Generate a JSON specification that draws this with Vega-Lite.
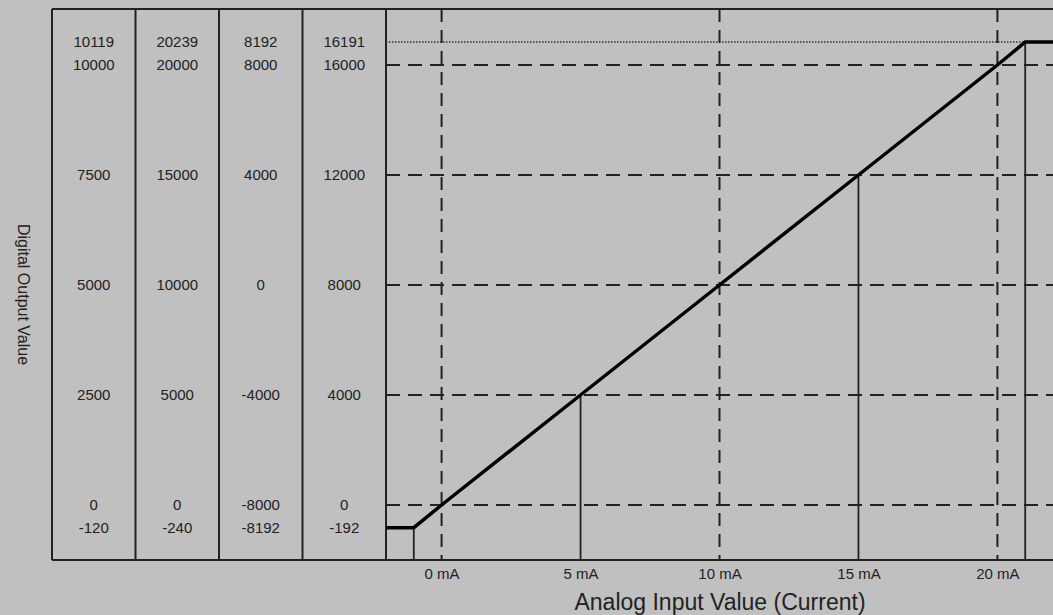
{
  "$schema": "https://vega.github.io/schema/vega-lite/v6.json",
  "width": 1001,
  "height": 551,
  "autosize": {"type": "none"},
  "padding": {"left": 52, "top": 9, "right": 0, "bottom": 55},
  "background": "#c0c0c0",
  "config": {
    "view": {"stroke": null},
    "font": "Liberation Sans",
    "axisY": {
      "labels": false, "ticks": false, "domain": false, "grid": false,
      "titleAngle": 90, "titleX": -30, "titleY": 285,
      "titleAlign": "center", "titleBaseline": "middle",
      "titleFontSize": 16, "titleFontWeight": "normal", "titleColor": "#222222",
      "titleFont": "Liberation Sans"
    },
    "axisX": {
      "ticks": false, "domain": false, "grid": false,
      "labelFontSize": 15, "labelColor": "#222222", "labelPadding": 6,
      "labelFont": "Liberation Sans",
      "titleFontSize": 23, "titleFontWeight": "normal", "titleColor": "#222222",
      "titleFont": "Liberation Sans",
      "titleY": 49, "titleBaseline": "alphabetic"
    }
  },
  "datasets": {
    "table": [
      {"pos": 0.5, "level": 16191, "label": "10119"},
      {"pos": 0.5, "level": 16000, "label": "10000"},
      {"pos": 0.5, "level": 12000, "label": "7500"},
      {"pos": 0.5, "level": 8000, "label": "5000"},
      {"pos": 0.5, "level": 4000, "label": "2500"},
      {"pos": 0.5, "level": 0, "label": "0"},
      {"pos": 0.5, "level": -192, "label": "-120"},
      {"pos": 1.5, "level": 16191, "label": "20239"},
      {"pos": 1.5, "level": 16000, "label": "20000"},
      {"pos": 1.5, "level": 12000, "label": "15000"},
      {"pos": 1.5, "level": 8000, "label": "10000"},
      {"pos": 1.5, "level": 4000, "label": "5000"},
      {"pos": 1.5, "level": 0, "label": "0"},
      {"pos": 1.5, "level": -192, "label": "-240"},
      {"pos": 2.5, "level": 16191, "label": "8192"},
      {"pos": 2.5, "level": 16000, "label": "8000"},
      {"pos": 2.5, "level": 12000, "label": "4000"},
      {"pos": 2.5, "level": 8000, "label": "0"},
      {"pos": 2.5, "level": 4000, "label": "-4000"},
      {"pos": 2.5, "level": 0, "label": "-8000"},
      {"pos": 2.5, "level": -192, "label": "-8192"},
      {"pos": 3.5, "level": 16191, "label": "16191"},
      {"pos": 3.5, "level": 16000, "label": "16000"},
      {"pos": 3.5, "level": 12000, "label": "12000"},
      {"pos": 3.5, "level": 8000, "label": "8000"},
      {"pos": 3.5, "level": 4000, "label": "4000"},
      {"pos": 3.5, "level": 0, "label": "0"},
      {"pos": 3.5, "level": -192, "label": "-192"}
    ],
    "dividers": [{"pos": 0}, {"pos": 1}, {"pos": 2}, {"pos": 3}, {"pos": 4}],
    "frame": [{"level": -2000}, {"level": 18000}],
    "hgrid": [
      {"level": 0, "from": -2, "to": 22},
      {"level": 4000, "from": -2, "to": 22},
      {"level": 8000, "from": -2, "to": 22},
      {"level": 12000, "from": -2, "to": 22},
      {"level": 16000, "from": -2, "to": 22}
    ],
    "vgrid": [{"mA": 0}, {"mA": 10}, {"mA": 20}],
    "dotted": [{"level": 16191, "from": -2, "to": 21}],
    "drops": [
      {"mA": -1, "level": -192, "bottom": -2000},
      {"mA": 5, "level": 4000, "bottom": -2000},
      {"mA": 15, "level": 12000, "bottom": -2000},
      {"mA": 21, "level": 16191, "bottom": -2000}
    ],
    "curve": [
      {"mA": -2, "level": -192},
      {"mA": -1, "level": -192},
      {"mA": 0, "level": 0},
      {"mA": 5, "level": 4000},
      {"mA": 10, "level": 8000},
      {"mA": 15, "level": 12000},
      {"mA": 20, "level": 16000},
      {"mA": 21, "level": 16191},
      {"mA": 22, "level": 16191}
    ]
  },
  "resolve": {"scale": {"x": "independent"}},
  "layer": [
    {
      "layer": [
        {
          "data": {"name": "dividers"},
          "mark": {"type": "rule", "stroke": "#222222", "strokeWidth": 2},
          "encoding": {
            "x": {"field": "pos", "type": "quantitative", "axis": null,
                  "scale": {"domain": [0, 4], "range": [0, 334], "nice": false, "zero": false}}
          }
        },
        {
          "data": {"name": "table"},
          "mark": {"type": "text", "fontSize": 15, "align": "center", "baseline": "middle", "color": "#222222", "font": "Liberation Sans"},
          "encoding": {
            "x": {"field": "pos", "type": "quantitative", "axis": null,
                  "scale": {"domain": [0, 4], "range": [0, 334], "nice": false, "zero": false}},
            "y": {"field": "level", "type": "quantitative", "title": "Digital Output Value",
                  "scale": {"domain": [-2000, -192, 0, 16000, 16191, 18000], "range": [551, 518.7, 496, 56, 33, 0], "nice": false, "zero": false}},
            "text": {"field": "label"}
          }
        }
      ]
    },
    {
      "layer": [
        {
          "data": {"name": "hgrid"},
          "mark": {"type": "rule", "stroke": "#222222", "strokeWidth": 2, "strokeDash": [14, 8]},
          "encoding": {
            "x": {"field": "from", "type": "quantitative",
                  "scale": {"domain": [-2, 22], "range": [334, 1001], "nice": false, "zero": false},
                  "axis": {"values": [0, 5, 10, 15, 20], "labelExpr": "datum.value + ' mA'", "title": "Analog Input Value (Current)"}},
            "x2": {"field": "to"},
            "y": {"field": "level", "type": "quantitative", "title": "Digital Output Value",
                  "scale": {"domain": [-2000, -192, 0, 16000, 16191, 18000], "range": [551, 518.7, 496, 56, 33, 0], "nice": false, "zero": false}}
          }
        },
        {
          "data": {"name": "vgrid"},
          "mark": {"type": "rule", "stroke": "#222222", "strokeWidth": 2, "strokeDash": [13, 8]},
          "encoding": {
            "x": {"field": "mA", "type": "quantitative",
                  "scale": {"domain": [-2, 22], "range": [334, 1001], "nice": false, "zero": false},
                  "axis": {"values": [0, 5, 10, 15, 20], "labelExpr": "datum.value + ' mA'", "title": "Analog Input Value (Current)"}}
          }
        },
        {
          "data": {"name": "dotted"},
          "mark": {"type": "rule", "stroke": "#333333", "strokeWidth": 1.5, "strokeDash": [1.5, 1.5]},
          "encoding": {
            "x": {"field": "from", "type": "quantitative",
                  "scale": {"domain": [-2, 22], "range": [334, 1001], "nice": false, "zero": false},
                  "axis": {"values": [0, 5, 10, 15, 20], "labelExpr": "datum.value + ' mA'", "title": "Analog Input Value (Current)"}},
            "x2": {"field": "to"},
            "y": {"field": "level", "type": "quantitative", "title": "Digital Output Value",
                  "scale": {"domain": [-2000, -192, 0, 16000, 16191, 18000], "range": [551, 518.7, 496, 56, 33, 0], "nice": false, "zero": false}}
          }
        },
        {
          "data": {"name": "drops"},
          "mark": {"type": "rule", "stroke": "#222222", "strokeWidth": 1.8},
          "encoding": {
            "x": {"field": "mA", "type": "quantitative",
                  "scale": {"domain": [-2, 22], "range": [334, 1001], "nice": false, "zero": false},
                  "axis": {"values": [0, 5, 10, 15, 20], "labelExpr": "datum.value + ' mA'", "title": "Analog Input Value (Current)"}},
            "y": {"field": "level", "type": "quantitative", "title": "Digital Output Value",
                  "scale": {"domain": [-2000, -192, 0, 16000, 16191, 18000], "range": [551, 518.7, 496, 56, 33, 0], "nice": false, "zero": false}},
            "y2": {"field": "bottom"}
          }
        },
        {
          "data": {"name": "frame"},
          "mark": {"type": "rule", "stroke": "#222222", "strokeWidth": 2},
          "encoding": {
            "y": {"field": "level", "type": "quantitative", "title": "Digital Output Value",
                  "scale": {"domain": [-2000, -192, 0, 16000, 16191, 18000], "range": [551, 518.7, 496, 56, 33, 0], "nice": false, "zero": false}}
          }
        },
        {
          "data": {"name": "curve"},
          "mark": {"type": "line", "stroke": "#000000", "strokeWidth": 3.5, "strokeJoin": "miter"},
          "encoding": {
            "x": {"field": "mA", "type": "quantitative",
                  "scale": {"domain": [-2, 22], "range": [334, 1001], "nice": false, "zero": false},
                  "axis": {"values": [0, 5, 10, 15, 20], "labelExpr": "datum.value + ' mA'", "title": "Analog Input Value (Current)"}},
            "y": {"field": "level", "type": "quantitative", "title": "Digital Output Value",
                  "scale": {"domain": [-2000, -192, 0, 16000, 16191, 18000], "range": [551, 518.7, 496, 56, 33, 0], "nice": false, "zero": false}}
          }
        }
      ]
    }
  ]
}
